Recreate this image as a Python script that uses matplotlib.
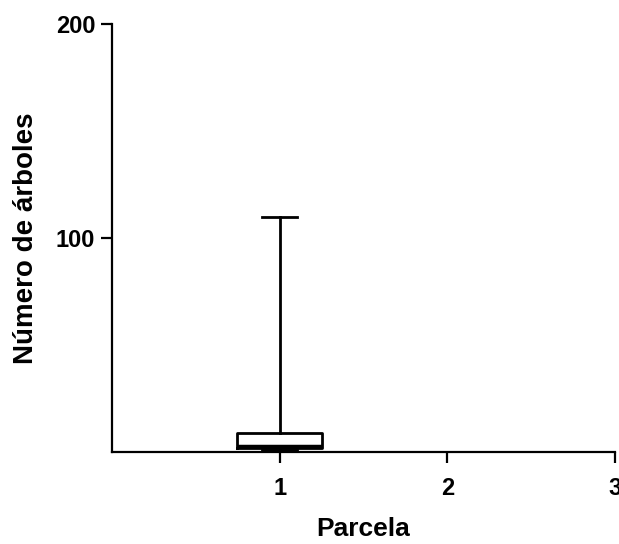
import matplotlib
matplotlib.use("Agg")
import matplotlib.pyplot as plt

# datos del diagrama de caja (Parcela 1)
parcelas = [1]
minimo = [1]
q1 = [2]
mediana = [3]
q3 = [9]
maximo = [110]
xticks = [1, 2, 3]
yticks = [100, 200]

plt.rcParams['font.family'] = ['Liberation Sans', 'DejaVu Sans']
plt.rcParams['font.weight'] = 'bold'

fig = plt.figure(figsize=(6.19, 5.44), dpi=100)
ax = fig.add_axes([0.181, 0.169, 0.8125, 0.787])

stats = []
for i in range(len(parcelas)):
    stats.append({"whislo": minimo[i], "q1": q1[i], "med": mediana[i],
                  "q3": q3[i], "whishi": maximo[i], "fliers": []})

ax.bxp(stats, positions=parcelas, widths=0.51, showfliers=False,
       boxprops=dict(color='black', linewidth=2),
       medianprops=dict(color='black', linewidth=2.5),
       whiskerprops=dict(color='black', linewidth=2),
       capprops=dict(color='black', linewidth=2),
       capwidths=0.21)

ax.set_xlim(0, 3)
ax.set_ylim(0, 200)
ax.set_xticks(xticks)
ax.set_xticklabels([str(t) for t in xticks])
ax.set_yticks(yticks)
ax.set_yticklabels([str(t) for t in yticks])

for s in ['top', 'right']:
    ax.spines[s].set_visible(False)
for s in ['left', 'bottom']:
    ax.spines[s].set_linewidth(1.6)

ax.tick_params(axis='both', width=1.6, length=8, labelsize=17)
ax.tick_params(axis='x', pad=10)
ax.tick_params(axis='y', pad=4)

ax.set_xlabel('Parcela', fontsize=19, fontweight='bold', labelpad=12)
ax.set_ylabel('Número de árboles', fontsize=20, fontweight='bold', labelpad=12)

fig.savefig('out.png', dpi=100)
